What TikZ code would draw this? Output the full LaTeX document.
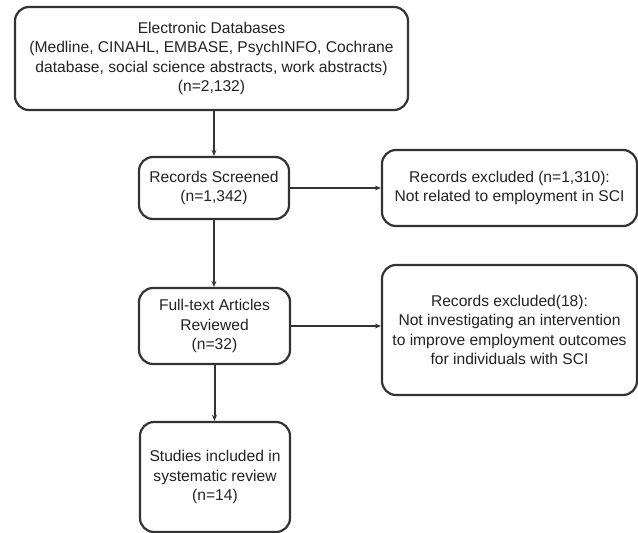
\documentclass[tikz,border=0pt]{standalone}
\usepackage{fontspec}
\setmainfont{Liberation Sans}
\usepackage{tikz}
\usetikzlibrary{arrows.meta}

\definecolor{linegray}{HTML}{333333}
\definecolor{textgray}{HTML}{222222}

\begin{document}
\begin{tikzpicture}[x=1pt,y=-1pt,line width=2.2pt,
  box/.style={draw=linegray, rounded corners=14pt, align=center, inner sep=0pt,
    text=textgray, font=\fontsize{15.6}{19.5}\selectfont},
  flow/.style={draw=linegray, line width=2pt, -{Stealth[length=6pt,width=5pt]}}]

\useasboundingbox (0,0) rectangle (638,533);

\node [box, minimum width=393pt, minimum height=103pt] (databases) at (211.5,58.5)
  {Electronic Databases\\(Medline, CINAHL, EMBASE, PsychINFO, Cochrane\\database, social science abstracts, work abstracts)\\(n=2,132)};
\node [box, minimum width=150pt, minimum height=62pt] (screened) at (214,188)
  {Records Screened\\(n=1,342)};
\node [box, minimum width=255pt, minimum height=76pt] (excludedA) at (509.5,188)
  {Records excluded (n=1,310):\\Not related to employment in SCI};
\node [box, minimum width=151pt, minimum height=76pt] (fulltext) at (214.5,326)
  {Full-text Articles\\Reviewed\\(n=32)};
\node [box, minimum width=255pt, minimum height=130pt] (excludedB) at (509.5,330)
  {Records excluded(18):\\Not investigating an intervention\\to improve employment outcomes\\for individuals with SCI};
\node [box, minimum width=150pt, minimum height=110pt] (included) at (215,477)
  {Studies included in\\systematic review\\(n=14)};

\draw [flow] (databases.south -| screened.north) -- (screened.north);
\draw [flow] (screened.east) -- (excludedA.west);
\draw [flow] (screened.south) -- (screened.south |- fulltext.north);
\draw [flow] (fulltext.east) -- (fulltext.east -| excludedB.west);
\draw [flow] (fulltext.south) -- (fulltext.south |- included.north);

\end{tikzpicture}
\end{document}
